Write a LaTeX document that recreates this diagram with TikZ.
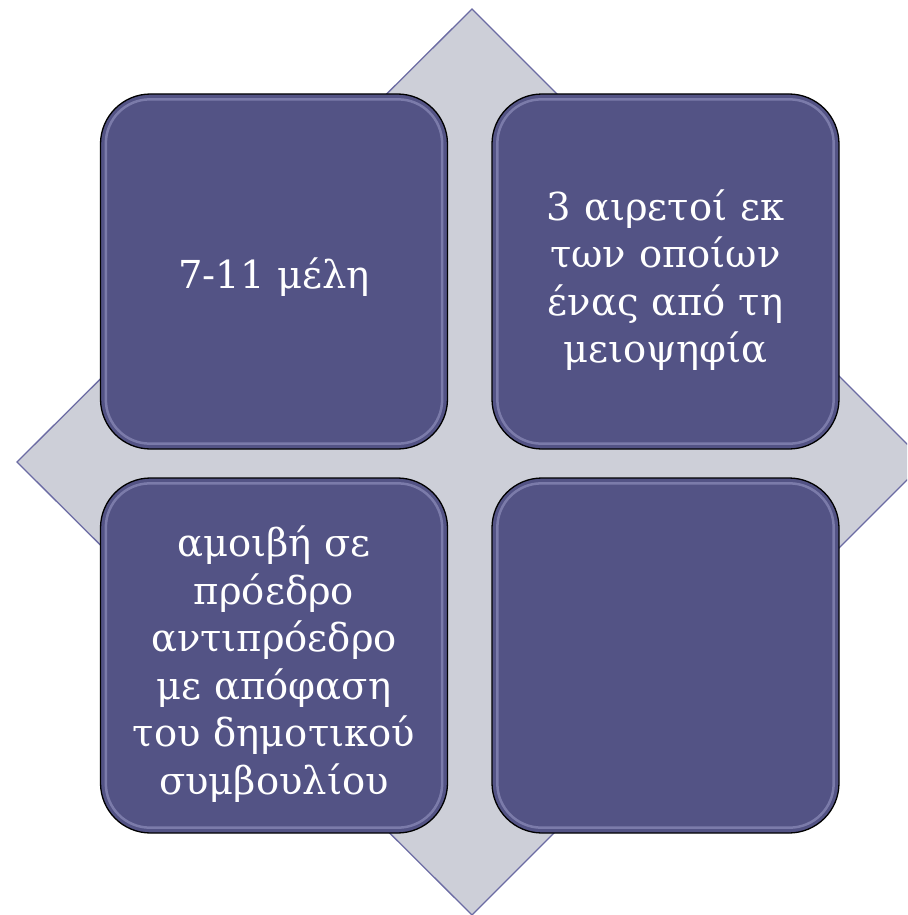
\documentclass[tikz,border=0pt]{standalone}
\usepackage{fontspec}
\setmainfont{DejaVu Serif}
\definecolor{boxfill}{HTML}{535385}
\definecolor{diafill}{HTML}{CDCFD8}
\definecolor{diaedge}{HTML}{6B6BA3}
\definecolor{gloss}{HTML}{C8C8F0}
\tikzset{
  card/.style={draw=black, line width=1.3pt, fill=boxfill, rounded corners=50pt,
    minimum width=347pt, minimum height=355pt, inner sep=0pt},
  cardtext/.style={text width=330pt, align=center, text=white,
    font=\fontsize{38.5}{47.5}\selectfont, inner sep=0pt},
  shine/.style={draw=gloss, line width=2.5pt, opacity=0.35, rounded corners=44pt}
}
\begin{document}
\begin{tikzpicture}[x=1pt,y=-1pt]
\useasboundingbox (0,0) rectangle (907,915);
\clip (0,0) rectangle (907,915);
\coordinate (dt) at (472,9);
\coordinate (dr) at (925,462);
\coordinate (db) at (472,915);
\coordinate (dl) at (17,462);
\draw[fill=diafill, draw=diaedge, line width=1.3pt] (dt) -- (dr) -- (db) -- (dl) -- cycle;
\node[card] (tl) at (274,271.5) {};
\node[card] (tr) at (665.5,271.5) {};
\node[card] (bl) at (274,655.5) {};
\node[card] (br) at (665.5,655.5) {};
\foreach \n in {tl,tr,bl,br}{
  \draw[shine] ([shift={(6pt,-6pt)}]\n.north west) rectangle ([shift={(-6pt,6pt)}]\n.south east);
}
\node[cardtext] (tlt) at (274,277) {7-11 μέλη};
\node[cardtext] (trt) at (665.5,280) {3 αιρετοί εκ\\των οποίων\\ένας από τη\\μειοψηφία};
\node[cardtext] (blt) at (274,664) {αμοιβή σε\\πρόεδρο\\αντιπρόεδρο\\με απόφαση\\του δημοτικού\\συμβουλίου};
\end{tikzpicture}
\end{document}
